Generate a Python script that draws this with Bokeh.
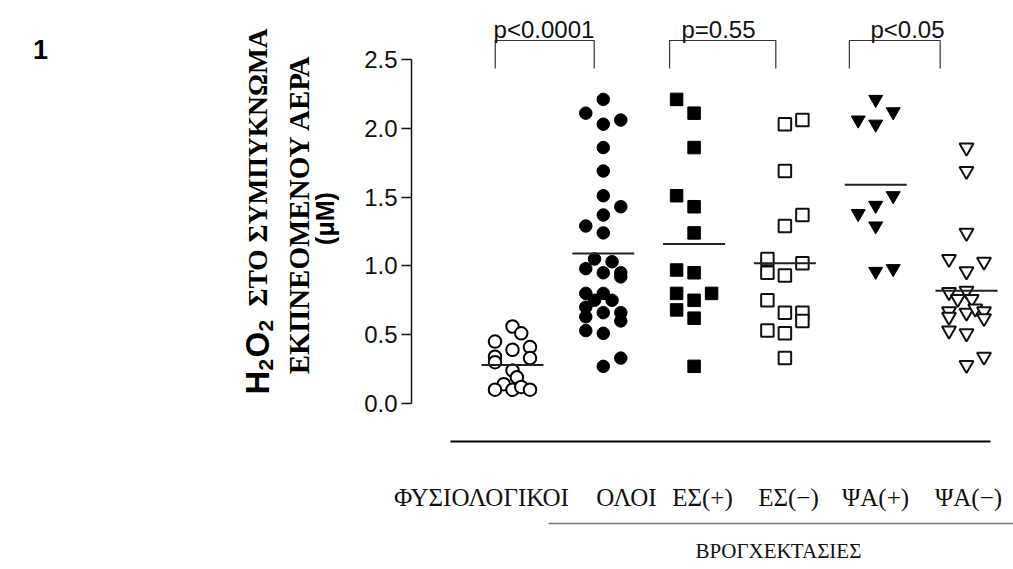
import math
from bokeh.plotting import figure
from bokeh.models import Range1d, LinearAxis, FixedTicker, PrintfTickFormatter, Label
from bokeh.core.properties import value
from bokeh.embed import file_html
from bokeh.resources import INLINE

# ---------------- data ----------------
groups = ["ΦΥΣΙΟΛΟΓΙΚΟΙ", "ΟΛΟΙ", "ΕΣ(+)", "ΕΣ(−)", "ΨΑ(+)", "ΨΑ(−)"]
bronch_label = "ΒΡΟΓΧΕΚΤΑΣΙΕΣ"

normal_vals = [0.56, 0.51, 0.45, 0.39, 0.41, 0.34, 0.33, 0.30, 0.24, 0.19, 0.14, 0.10, 0.10, 0.12, 0.10]
normal_cols = [0, 1, -2, 0, 2, -2, 2, -2, 0, 0.5, -1, -2, 0, 1, 2]

all_vals = [2.21, 2.11, 2.06, 2.03, 1.86, 1.69, 1.51, 1.43, 1.37, 1.29, 1.24, 1.05, 1.03, 0.98, 0.95,
            0.95, 0.92, 0.80, 0.80, 0.75, 0.75, 0.70, 0.66, 0.66, 0.63, 0.60, 0.53, 0.51, 0.33, 0.27]
all_cols = [0, -2, 2, 0, 0, 0, 0, 2, 0, -2, 0, -1, 1, -2, 0,
            2, 2, -2, 0, -1, 1, -2, 0, 2, -2, 2, -2, 0, 2, 0]

es_pos_vals = [2.21, 2.11, 1.86, 1.51, 1.43, 1.24, 0.97, 0.95, 0.80, 0.80, 0.75, 0.68, 0.62, 0.27]
es_pos_cols = [-2, 0, 0, -2, 0, 0, -2, 0, -2, 2, 0, -2, 0, 0]

es_neg_vals = [2.03, 2.06, 1.69, 1.37, 1.29, 1.05, 1.02, 0.95, 0.93, 0.75, 0.66, 0.66, 0.60, 0.53, 0.51, 0.33]
es_neg_cols = [0, 2, 0, 2, 0, -2, 2, -2, 0, -2, 0, 2, 2, -2, 0, 0]

pa_pos_vals = [2.21, 2.12, 2.06, 2.03, 1.51, 1.44, 1.38, 1.29, 0.96, 0.98]
pa_pos_cols = [0, 2, -2, 0, 2, 0, -2, 0, 0, 2]

pa_neg_vals = [1.86, 1.69, 1.24, 1.05, 1.03, 0.96, 0.81, 0.82, 0.76, 0.76,
               0.67, 0.66, 0.69, 0.67, 0.63, 0.62, 0.53, 0.51, 0.34, 0.28]
pa_neg_cols = [0, 0, 0, -2, 2, 0, -2, 0, -1, 0.6,
               -2, 0, 1, 2, -2, 2, -2, 0, 2, 0]

group_means = [0.28, 1.09, 1.16, 1.02, 1.59, 0.82]

p_texts = ["p<0.0001", "p=0.55", "p<0.05"]
pairs = [(0, 1), (2, 3), (4, 5)]

y_ticks = [0.0, 0.5, 1.0, 1.5, 2.0, 2.5]

# ---------------- geometry helpers (canvas pixel -> data) ----------------
PX_X0, PX_DX = 512.0, 90.8      # canvas x of group 0, px per group
PX_Y0, PX_DY = 403.0, 137.6     # canvas y of value 0, px per unit
COL = 8.75 / PX_DX              # jitter column width in data units


def cx(px):
    return (px - PX_X0) / PX_DX


def cy(py):
    return (PX_Y0 - py) / PX_DY


W, H = 1013, 569
p = figure(width=W, height=H,
           x_range=Range1d(cx(0), cx(W)), y_range=Range1d(cy(H), cy(0)),
           x_axis_type=None, y_axis_type=None,
           toolbar_location=None, output_backend="svg",
           min_border_left=0, min_border_right=0, min_border_top=0, min_border_bottom=0,
           outline_line_color=None, background_fill_color="white", border_fill_color="white")

yax = LinearAxis(bounds=(0, 2.5), ticker=FixedTicker(ticks=y_ticks),
                 formatter=PrintfTickFormatter(format="%.1f"),
                 fixed_location=cx(411),
                 major_tick_out=10, major_tick_in=0, minor_tick_line_color=None,
                 axis_line_width=1.5, major_tick_line_width=1.5,
                 axis_line_color="#111", major_tick_line_color="#111",
                 major_label_text_font="Liberation Sans", major_label_text_font_size="24px",
                 major_label_text_color="#111", major_label_standoff=4)
p.add_layout(yax, "left")


def xs(i, cols):
    return [i + c * COL for c in cols]


MS = 12.5
# group 0: open circles
p.scatter(xs(0, normal_cols), normal_vals, marker="circle", size=MS,
          fill_color="white", line_color="black", line_width=2)
# group 1: filled circles
p.scatter(xs(1, all_cols), all_vals, marker="circle", size=MS,
          fill_color="black", line_color="black", line_width=1)
# group 2: filled squares
p.scatter(xs(2, es_pos_cols), es_pos_vals, marker="square", size=MS,
          fill_color="black", line_color="black", line_width=1)
# group 3: open squares
p.scatter(xs(3, es_neg_cols), es_neg_vals, marker="square", size=MS,
          fill_color="white", line_color="#111", line_width=2)
# group 4: filled inverted triangles
p.scatter(xs(4, pa_pos_cols), pa_pos_vals, marker="inverted_triangle", size=14,
          fill_color="black", line_color="black", line_width=1)
# group 5: open inverted triangles
p.scatter(xs(5, pa_neg_cols), pa_neg_vals, marker="inverted_triangle", size=14,
          fill_color="white", line_color="#111", line_width=2)

# mean lines
half = 31 / PX_DX
p.segment(x0=[i - half for i in range(len(groups))], x1=[i + half for i in range(len(groups))],
          y0=group_means, y1=group_means, line_color="#222", line_width=2)

# significance brackets
bracket_left_off = [-0.19, -0.27, -0.29]
bracket_right_off = [-0.10, -0.10, -0.29]
btop, bbot = cy(40), cy(68)
for (a, b), lo, ro in zip(pairs, bracket_left_off, bracket_right_off):
    xl, xr = a + lo, b + ro
    p.line([xl, xl, xr, xr], [bbot, btop, btop, bbot], line_color="#333", line_width=1.2)

p_text_x = [cx(543.5), cx(718), cx(907)]
p.text(x=p_text_x, y=[cy(29)] * 3, text=p_texts, text_font=value("Liberation Sans"),
       text_font_size="24px", text_align="center", text_baseline="alphabetic", text_color="#111")

# bottom lines
p.segment(x0=[cx(450)], x1=[cx(990)], y0=[cy(441)], y1=[cy(441)], line_color="black", line_width=2)
p.segment(x0=[cx(548)], x1=[cx(1013)], y0=[cy(523)], y1=[cy(523)], line_color="#777", line_width=1.5)

# category labels
cat_px = [481, 626, 702, 788, 875, 968]
for g, px in zip(groups, cat_px):
    p.add_layout(Label(x=cx(px), y=cy(497), text=g, text_font="Liberation Serif",
                       text_font_size="25px", text_align="center", text_baseline="alphabetic",
                       text_color="#111"))
p.add_layout(Label(x=cx(778), y=cy(550), text=bronch_label, text_font="Liberation Serif",
                   text_font_size="21px", text_align="center", text_baseline="middle",
                   text_color="#111"))

# panel number
p.add_layout(Label(x=cx(40), y=cy(49), text="1", text_font="Liberation Sans",
                   text_font_style="bold", text_font_size="27px", text_align="center",
                   text_baseline="middle", text_color="black"))

# rotated y-axis title (mixed fonts)
ang = math.pi / 2
pieces = [
    ("H", 257, 394, "Liberation Sans", "33px"),
    ("2", 265, 370, "Liberation Sans", "21px"),
    ("O", 257, 357, "Liberation Sans", "33px"),
    ("2", 265, 331, "Liberation Sans", "21px"),
]
for t, px, py, f, fs in pieces:
    p.add_layout(Label(x=cx(px), y=cy(py), text=t, text_font=f, text_font_style="bold",
                       text_font_size=fs, angle=ang, text_align="left", text_baseline="middle",
                       text_color="black"))
p.add_layout(Label(x=cx(257), y=cy(306), text="ΣΤΟ ΣΥΜΠΥΚΝΩΜΑ", text_font="Liberation Serif",
                   text_font_style="bold", text_font_size="27.5px", angle=ang, text_align="left",
                   text_baseline="middle", text_color="black"))
p.add_layout(Label(x=cx(298), y=cy(214), text="ΕΚΠΝΕΟΜΕΝΟΥ ΑΕΡΑ", text_font="Liberation Serif",
                   text_font_style="bold", text_font_size="29px", angle=ang, text_align="center",
                   text_baseline="middle", text_color="black"))
p.add_layout(Label(x=cx(324), y=cy(218), text="(μM)", text_font="Liberation Sans",
                   text_font_style="bold", text_font_size="25px", angle=ang, text_align="center",
                   text_baseline="middle", text_color="black"))

open("out.html", "w").write(file_html(p, INLINE))
